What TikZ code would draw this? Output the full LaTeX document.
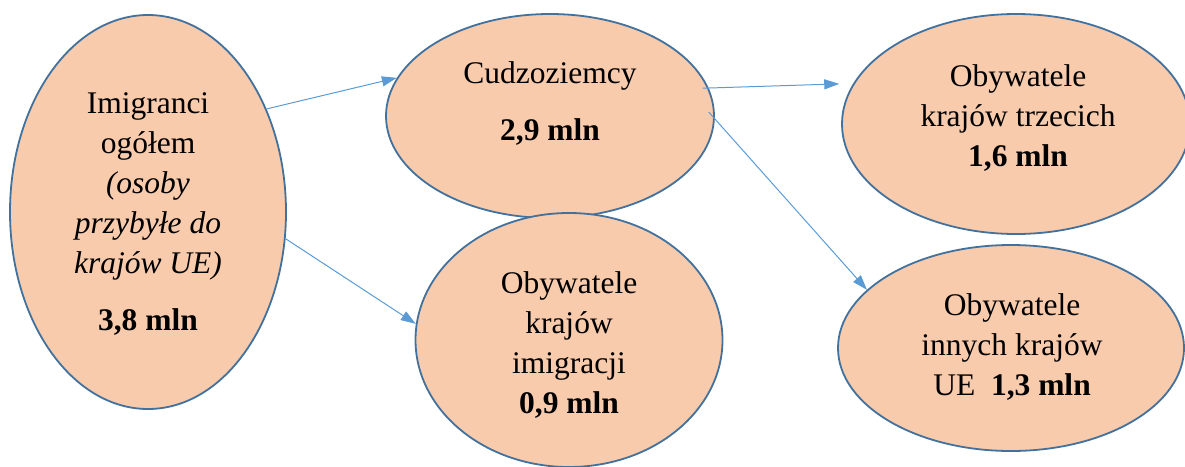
\documentclass[tikz,border=0pt]{standalone}
\usepackage{fontspec}
\setmainfont{Liberation Serif}
\usetikzlibrary{shapes.geometric,arrows.meta}
\definecolor{bubblefill}{HTML}{F8CBAD}
\definecolor{bubbleline}{HTML}{41719C}
\definecolor{linkblue}{HTML}{5B9BD5}
\tikzset{
  bubble/.style={ellipse, draw=bubbleline, line width=1.8pt, fill=bubblefill, inner sep=0pt},
  caption/.style={align=center, inner sep=0pt, font=\fontsize{31.5}{40}\selectfont},
  link/.style={draw=linkblue, line width=1pt, -{Triangle[length=15pt,width=10pt]}}
}
\begin{document}
\begin{tikzpicture}[x=1pt,y=-1pt]
\useasboundingbox (0,0) rectangle (1185,466);

% ellipses
\node[bubble, minimum width=276pt, minimum height=394pt] (imm) at (148,212) {};
\node[bubble, minimum width=328pt, minimum height=204pt] (cud) at (550,116) {};
\node[bubble, minimum width=307pt, minimum height=254pt] (own) at (569,340) {};
\node[bubble, minimum width=348pt, minimum height=220pt] (tr) at (1016,124) {};
\node[bubble, minimum width=346pt, minimum height=206pt] (ue) at (1011,348) {};

% texts
\node[caption] (imm-t) at (148,214) {Imigranci\\ogółem\\\textit{(osoby}\\\textit{przybyłe do}\\\textit{krajów UE)}\\[17pt]\textbf{3,8 mln}};
\node[caption] (cud-t) at (550,104) {Cudzoziemcy\\[17pt]\textbf{2,9 mln}};
\node[caption] (own-t) at (569,345) {Obywatele\\krajów\\imigracji\\\textbf{0,9 mln}};
\node[caption] (tr-t) at (1018,118) {Obywatele\\krajów trzecich\\\textbf{1,6 mln}};
\node[caption] (ue-t) at (1012,347) {Obywatele\\innych krajów\\UE\ \ \textbf{1,3 mln}};

% connectors
\draw[link] (imm.41) -- (cud.166);
\draw[link] (imm.-11) -- (own.174);
\draw[link, shorten <=-6pt, shorten >=14pt] (cud.10) -- (tr.166);
\draw[link, shorten <=-9pt] (cud.-1) -- (ue.158);
\end{tikzpicture}
\end{document}
